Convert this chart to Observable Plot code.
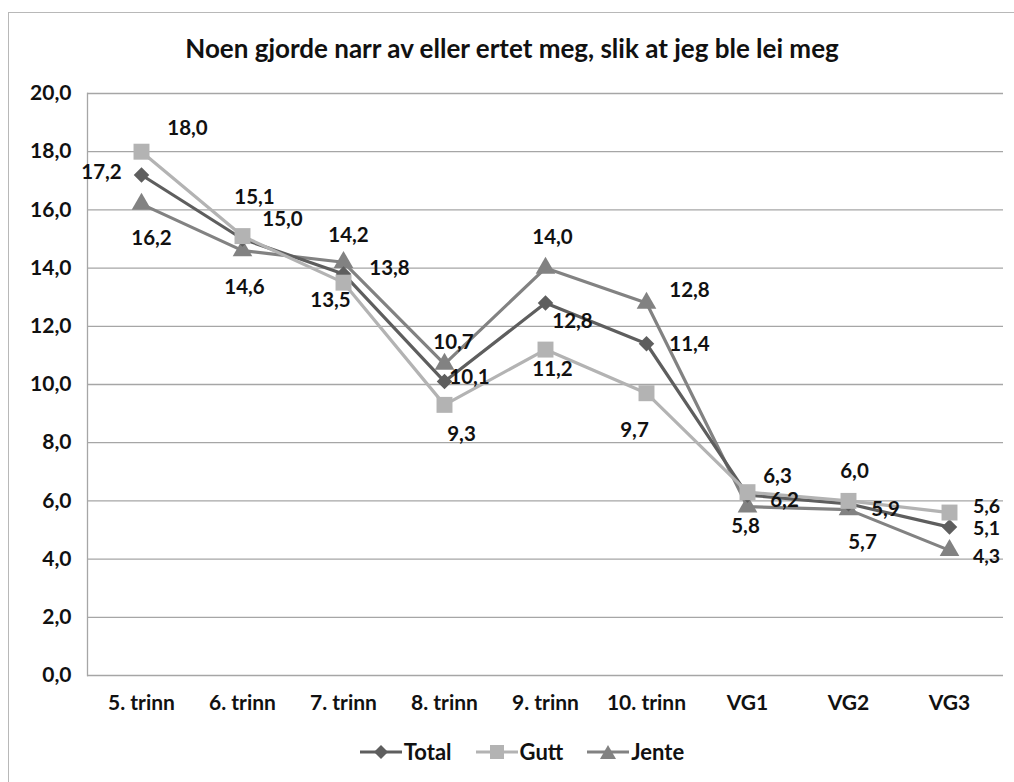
<!DOCTYPE html>
<html>
<head>
<meta charset="utf-8">
<script src="https://cdn.jsdelivr.net/npm/d3@7"></script>
<script src="https://cdn.jsdelivr.net/npm/@observablehq/plot@0.6"></script>
<style>
  html, body { margin: 0; padding: 0; background: #fff; }
  body { width: 1014px; height: 782px; position: relative; overflow: hidden; font-family: Lato, "Open Sans", sans-serif; }
  #frame { position: absolute; left: 8px; top: 12px; width: 1010px; height: 780px; border: 1.5px solid #b8b8b8; box-sizing: border-box; }
  #title { position: absolute; left: 0; width: 1024px; top: 32px; text-align: center; font-weight: bold; font-size: 26px; color: #111; }
  #chart { position: absolute; left: 0; top: 80px; }
  #legend { position: absolute; left: 0; top: 738px; width: 1044px; display: flex; justify-content: center; gap: 24px; font-weight: bold; font-size: 22px; color: #111; }
  #legend .item { display: flex; align-items: center; gap: 2px; }
</style>
</head>
<body>
<div id="frame"></div>
<div id="title">Noen gjorde narr av eller ertet meg, slik at jeg ble lei meg</div>
<div id="chart"></div>
<div id="legend"></div>
<script>
const categories = ["5. trinn", "6. trinn", "7. trinn", "8. trinn", "9. trinn", "10. trinn", "VG1", "VG2", "VG3"];
const seriesNames = ["Total", "Gutt", "Jente"];
const total = [17.2, 15.0, 13.8, 10.1, 12.8, 11.4, 6.2, 5.9, 5.1];
const gutt  = [18.0, 15.1, 13.5, 9.3, 11.2, 9.7, 6.3, 6.0, 5.6];
const jente = [16.2, 14.6, 14.2, 10.7, 14.0, 12.8, 5.8, 5.7, 4.3];
const yTicks = [0, 2, 4, 6, 8, 10, 12, 14, 16, 18, 20];

// layout config: data label offsets (px) per series per category
const labelOffsets = {
  Total: [[-40,-3],[40,-20],[46,-5],[25,-4],[27,18],[43,1],[37,5],[37,6],[37,2]],
  Gutt:  [[46,-23],[12,-39],[-13,18],[17,30],[7,20],[-12,37],[30,-16],[6,-29],[37,-6]],
  Jente: [[10,34],[2,37],[5,-27],[9,-22],[7,-31],[43,-13],[-2,20],[14,33],[37,6]]
};
const colors = { Total: "#5e5e5e", Gutt: "#b3b3b3", Jente: "#828282" };
const symbols = { Total: "diamond2", Gutt: "square", Jente: "triangle" };
const radii = { Total: 7, Gutt: 9, Jente: 7.3 };

const valuesBySeries = { Total: total, Gutt: gutt, Jente: jente };
const rows = [];
for (const s of seriesNames) {
  categories.forEach((c, i) => rows.push({ series: s, cat: c, value: valuesBySeries[s][i], i }));
}
const fmt = v => v.toFixed(1).replace(".", ",");

const labelMarks = rows.map(d => Plot.text([d], {
  x: "cat", y: "value", text: r => fmt(r.value),
  dx: labelOffsets[d.series][d.i][0], dy: labelOffsets[d.series][d.i][1],
  fill: "#111", fontSize: d.i === 8 ? 19.5 : 20.5, fontWeight: "bold"
}));

const order = ["Jente", "Total", "Gutt"];
const plot = Plot.plot({
  width: 1014,
  height: 640,
  marginLeft: 87,
  marginRight: 11,
  marginTop: 13,
  marginBottom: 45,
  style: { fontFamily: "Lato, 'Open Sans', sans-serif", background: "transparent", overflow: "visible" },
  x: { type: "point", domain: categories, padding: 0.5, label: null, tickSize: 0, tickPadding: 18 },
  y: { domain: [0, 20], ticks: yTicks, label: null, tickSize: 0, tickPadding: 15, tickFormat: fmt },
  marks: [
    Plot.gridY(yTicks, { stroke: "#a6a6a6", strokeOpacity: 1, strokeWidth: 1.3 }),
    Plot.frame({ anchor: "left", stroke: "#a6a6a6", strokeWidth: 1.3 }),
    Plot.axisY({ ticks: yTicks, tickSize: 0, tickPadding: 16, tickFormat: fmt, fontSize: 21, fontWeight: "bold", fill: "#111" }),
    Plot.axisX({ tickSize: 0, tickPadding: 20, fontSize: 21, fontWeight: "bold", fill: "#111" }),
    ...order.map(s => Plot.line(rows.filter(r => r.series === s), { x: "cat", y: "value", stroke: colors[s], strokeWidth: 3.2 })),
    ...order.map(s => Plot.dot(rows.filter(r => r.series === s), { x: "cat", y: "value", symbol: () => symbols[s], fill: colors[s], stroke: "none", r: radii[s] })),
    ...labelMarks
  ]
});
document.getElementById("chart").appendChild(plot);

const legend = document.getElementById("legend");
const legendSym = {
  Total: '<path d="M21,3 L28,10 L21,17 L14,10 Z" fill="' + colors.Total + '"/>',
  Gutt: '<rect x="14" y="3" width="14" height="14" fill="' + colors.Gutt + '"/>',
  Jente: '<path d="M21,3 L29,17 L13,17 Z" fill="' + colors.Jente + '"/>'
};
for (const s of seriesNames) {
  const item = document.createElement("div");
  item.className = "item";
  item.innerHTML = '<svg width="42" height="20"><line x1="0" y1="10" x2="42" y2="10" stroke="' + colors[s] + '" stroke-width="3.2"/>' + legendSym[s] + '</svg><span>' + s + '</span>';
  legend.appendChild(item);
}
</script>
</body>
</html>
